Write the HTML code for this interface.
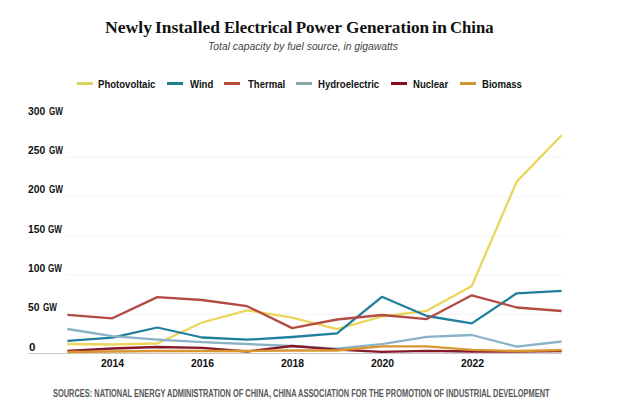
<!DOCTYPE html>
<html><head><meta charset="utf-8">
<style>
html,body{margin:0;padding:0;background:#fff;}
body{width:640px;height:418px;position:relative;overflow:hidden;font-family:"Liberation Sans",sans-serif;}
.t{position:absolute;white-space:nowrap;line-height:1;}
.tw{top:19px;font-family:"Liberation Serif",serif;font-weight:bold;font-size:17px;color:#111;transform-origin:0 0;}
#sub{left:208px;top:41px;font-size:11px;font-style:italic;color:#444;transform:scaleX(0.937);transform-origin:0 0;}
.lg{position:absolute;font-size:11px;font-weight:bold;color:#111;top:78.5px;transform-origin:0 0;transform:scaleX(0.87);}
.sw{position:absolute;top:82px;height:3px;width:16px;}
.yl{position:absolute;left:28px;font-size:10px;font-weight:bold;color:#111;transform-origin:0 0;transform:scaleX(1.04);}
.yn{transform:scaleX(1.03);}
.gw{transform:scaleX(0.81);}
.xl{position:absolute;top:359px;font-size:10px;font-weight:bold;color:#111;transform:scaleX(1.04);transform-origin:0 0;}
#src{left:53px;top:388.5px;font-size:10px;color:#575757;font-weight:bold;transform-origin:0 0;transform:scaleX(0.743);}
svg{position:absolute;left:0;top:0;}
</style></head><body>
<div class="t tw" style="left:104.6px;transform:scaleX(1.039)">Newly</div><div class="t tw" style="left:155.4px;transform:scaleX(1.026)">Installed</div><div class="t tw" style="left:223.8px;transform:scaleX(0.980)">Electrical</div><div class="t tw" style="left:295.7px;transform:scaleX(1.000)">Power</div><div class="t tw" style="left:345.8px;transform:scaleX(1.012)">Generation</div><div class="t tw" style="left:431.9px;transform:scaleX(1.054)">in</div><div class="t tw" style="left:449.6px;transform:scaleX(0.981)">China</div>
<div class="t" id="sub">Total capacity by fuel source, in gigawatts</div>

<div class="sw" style="left:77px;background:#dcd35e"></div>
<div class="t lg" id="lg1" style="left:98px">Photovoltaic</div>
<div class="sw" style="left:167px;background:#1a8088"></div>
<div class="t lg" id="lg2" style="left:190px">Wind</div>
<div class="sw" style="left:224px;background:#b84a36"></div>
<div class="t lg" id="lg3" style="left:248px">Thermal</div>
<div class="sw" style="left:296px;background:#8ea4ac"></div>
<div class="t lg" id="lg4" style="left:318px">Hydroelectric</div>
<div class="sw" style="left:391px;background:#8b0c22"></div>
<div class="t lg" id="lg5" style="left:413px">Nuclear</div>
<div class="sw" style="left:460px;background:#d09232"></div>
<div class="t lg" id="lg6" style="left:482px">Biomass</div>

<svg width="640" height="418" viewBox="0 0 640 418">
<g stroke="#f8f8f8" stroke-width="2">
<line x1="67" x2="561" y1="157.3" y2="157.3"/>
<line x1="67" x2="561" y1="196.5" y2="196.5"/>
<line x1="67" x2="561" y1="235.8" y2="235.8"/>
<line x1="67" x2="561" y1="275" y2="275"/>
<line x1="67" x2="561" y1="314.3" y2="314.3"/>
</g>
<line x1="28" x2="562" y1="353.5" y2="353.5" stroke="#c8c8c8" stroke-width="1"/>
<g fill="none" stroke-width="2.3" stroke-linejoin="round" stroke-linecap="butt">
<polyline points="67.4,344.0 112.3,344.5 157.3,343.5 202.2,322.5 247.1,310.3 292.1,317.7 337.0,329.2 381.9,316.5 426.8,310.8 471.8,286.0 516.7,181.6 561.6,135.3" stroke="#ebd55a"/>
<polyline points="67.4,340.9 112.3,337.6 157.3,327.5 202.2,337.5 247.1,339.7 292.1,337.0 337.0,333.4 381.9,296.8 426.8,316.0 471.8,323.4 516.7,293.3 561.6,290.8" stroke="#1f7f9c"/>
<polyline points="67.4,314.8 112.3,318.3 157.3,297.1 202.2,300.0 247.1,306.2 292.1,328.1 337.0,319.5 381.9,315.0 426.8,319.1 471.8,295.3 516.7,307.5 561.6,311.0" stroke="#b24b42"/>
<polyline points="67.4,329.0 112.3,336.2 157.3,339.7 202.2,342.2 247.1,344.0 292.1,346.0 337.0,348.7 381.9,344.1 426.8,336.8 471.8,335.0 516.7,346.6 561.6,341.5" stroke="#89b2c6"/>
<polyline points="67.4,351.0 112.3,348.5 157.3,347.0 202.2,347.8 247.1,351.5 292.1,346.0 337.0,349.6 381.9,351.8 426.8,350.8 471.8,351.5 516.7,351.5 561.6,351.0" stroke="#86182a"/>
<polyline points="67.4,352.0 112.3,351.5 157.3,351.0 202.2,351.0 247.1,351.0 292.1,350.5 337.0,350.5 381.9,346.3 426.8,346.3 471.8,349.8 516.7,351.0 561.6,350.2" stroke="#d9962f"/>
</g>
</svg>

<div class="t yl yn" id="n300" style="top:106.8px">300</div><div class="t yl gw" id="g300" style="top:106.8px;left:49.1px">GW</div>
<div class="t yl yn" id="n250" style="top:146.1px">250</div><div class="t yl gw" id="g250" style="top:146.1px;left:49.1px">GW</div>
<div class="t yl yn" id="n200" style="top:185.4px">200</div><div class="t yl gw" id="g200" style="top:185.4px;left:49.1px">GW</div>
<div class="t yl yn" id="n150" style="top:224.7px">150</div><div class="t yl gw" id="g150" style="top:224.7px;left:47.9px">GW</div>
<div class="t yl yn" id="n100" style="top:264.0px">100</div><div class="t yl gw" id="g100" style="top:264.0px;left:47.9px">GW</div>
<div class="t yl yn" id="n50" style="top:303.3px">50</div><div class="t yl gw" id="g50" style="top:303.3px;left:43.1px">GW</div>
<div class="t yl" id="y0" style="top:343px;left:28.8px;transform:scaleX(1.15)">0</div>

<div class="t xl" id="x2014" style="left:101px">2014</div>
<div class="t xl" id="x2016" style="left:191.3px">2016</div>
<div class="t xl" id="x2018" style="left:281.2px">2018</div>
<div class="t xl" id="x2020" style="left:370.6px">2020</div>
<div class="t xl" id="x2022" style="left:460.6px">2022</div>

<div class="t" id="src">SOURCES: NATIONAL ENERGY ADMINISTRATION OF CHINA, CHINA ASSOCIATION FOR THE PROMOTION OF INDUSTRIAL DEVELOPMENT</div>
</body></html>
